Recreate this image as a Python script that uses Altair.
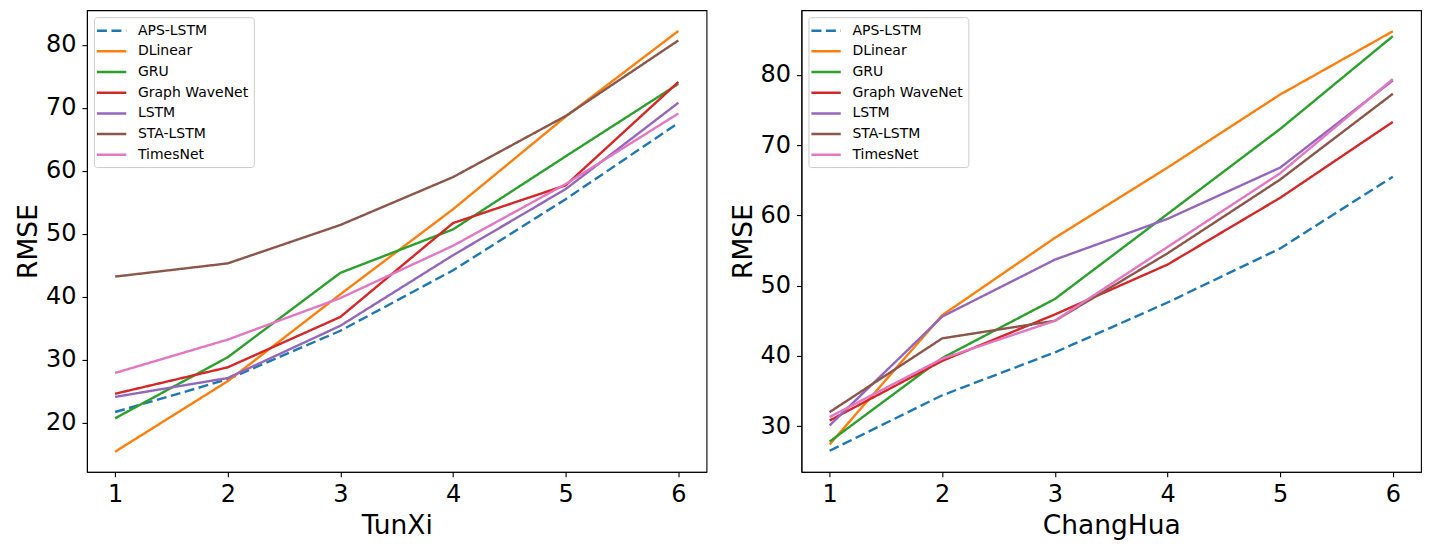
import altair as alt
import pandas as pd

steps = [1, 2, 3, 4, 5, 6]
models = ["APS-LSTM", "DLinear", "GRU", "Graph WaveNet", "LSTM", "STA-LSTM", "TimesNet"]
colors = ["#1f77b4", "#ff7f0e", "#2ca02c", "#d62728", "#9467bd", "#8c564b", "#e377c2"]

# TunXi RMSE
tunxi_aps = [21.7, 26.9, 34.6, 44.2, 55.5, 67.6]
tunxi_dlinear = [15.4, 26.6, 40.4, 53.9, 68.6, 82.2]
tunxi_gru = [20.7, 30.4, 43.8, 50.7, 62.3, 73.8]
tunxi_gwn = [24.6, 28.8, 36.8, 51.7, 57.7, 74.1]
tunxi_lstm = [24.1, 27.1, 35.4, 46.6, 57.1, 70.8]
tunxi_sta = [43.2, 45.3, 51.4, 59.0, 68.7, 80.7]
tunxi_times = [27.9, 33.2, 39.8, 48.1, 57.9, 69.1]

# ChangHua RMSE
chang_aps = [26.5, 34.4, 40.5, 47.6, 55.3, 65.5]
chang_dlinear = [27.4, 45.8, 56.8, 66.8, 77.2, 86.2]
chang_gru = [27.8, 39.7, 48.1, 60.2, 72.3, 85.5]
chang_gwn = [30.8, 39.3, 45.9, 53.0, 62.5, 73.3]
chang_lstm = [30.1, 45.6, 53.7, 59.5, 66.8, 79.2]
chang_sta = [32.0, 42.5, 45.0, 54.6, 65.1, 77.3]
chang_times = [31.3, 39.6, 45.0, 55.5, 66.0, 79.4]

tunxi_ticks = [20, 30, 40, 50, 60, 70, 80]
chang_ticks = [30, 40, 50, 60, 70, 80]


def build(series):
    rows = []
    for name, vals in zip(models, series):
        for s, v in zip(steps, vals):
            rows.append({"step": s, "rmse": v, "model": name})
    return pd.DataFrame(rows)


df_t = build([tunxi_aps, tunxi_dlinear, tunxi_gru, tunxi_gwn, tunxi_lstm, tunxi_sta, tunxi_times])
df_c = build([chang_aps, chang_dlinear, chang_gru, chang_gwn, chang_lstm, chang_sta, chang_times])

dashes = [[10, 4.5]] + [[1, 0]] * 6

legend = alt.Legend(
    title=None,
    orient="top-left",
    offset=7,
    padding=5,
    fillColor="rgba(255,255,255,0.8)",
    strokeColor="#cccccc",
    cornerRadius=3,
    labelFontSize=14,
    labelFont="DejaVu Sans",
    labelColor="black",
    symbolType="M-1.45,0L2.6,0",
    symbolSize=210,
    symbolStrokeWidth=2.5,
    rowPadding=4.7,
    labelOffset=22,
)


def panel(df, xtitle, ydomain, yticks):
    return alt.Chart(df).mark_line(strokeWidth=2.4, clip=True).encode(
        x=alt.X("step:Q",
                scale=alt.Scale(domain=[0.75, 6.25], nice=False, zero=False),
                axis=alt.Axis(values=steps, title=xtitle, format="d", titlePadding=6)),
        y=alt.Y("rmse:Q",
                scale=alt.Scale(domain=ydomain, nice=False, zero=False),
                axis=alt.Axis(values=yticks, title="RMSE", format="d",
                              minExtent=42, maxExtent=42, titlePadding=2)),
        color=alt.Color("model:N", scale=alt.Scale(domain=models, range=colors), legend=legend),
        strokeDash=alt.StrokeDash("model:N", scale=alt.Scale(domain=models, range=dashes), legend=legend),
        order=alt.Order("step:Q"),
    ).properties(width=620, height=462)


left = panel(df_t, "TunXi", [12.2, 85.5], tunxi_ticks)
right = panel(df_c, "ChangHua", [23.5, 89.2], chang_ticks)

chart = alt.hconcat(left, right, spacing=22).resolve_scale(
    color="independent", strokeDash="independent"
).properties(
    padding={"left": 7, "top": 1, "right": 0, "bottom": 0}
).configure_view(
    stroke="black", strokeWidth=1.1
).configure_axis(
    labelFont="DejaVu Sans", titleFont="DejaVu Sans",
    labelFontSize=24, titleFontSize=26.5, titleFontWeight="normal",
    labelColor="black", titleColor="black",
    tickColor="black", domainColor="black", tickSize=5, tickWidth=1.1,
    labelPadding=6, grid=False,
)

chart.save("out.html", embed_options={"renderer": "svg", "actions": False})
